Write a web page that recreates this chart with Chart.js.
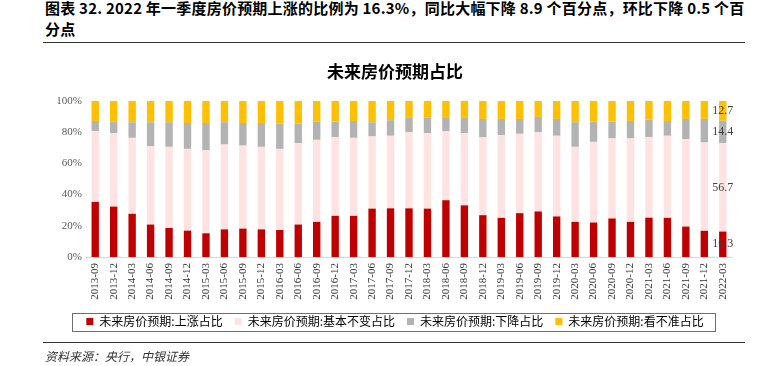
<!DOCTYPE html>
<html>
<head>
<meta charset="utf-8">
<script src="https://cdn.jsdelivr.net/npm/chart.js@4"></script>
<style>
  html, body { margin:0; padding:0; background:#fff; }
  body { width:774px; height:366px; position:relative; overflow:hidden; font-family:"Noto Sans CJK SC", sans-serif; }
  #head { position:absolute; left:45px; top:-3px; font-size:15px; font-weight:bold; line-height:21px; color:#000; white-space:nowrap; letter-spacing:0.22px; }
  .rule { position:absolute; left:43px; width:702px; height:0; border-top:1.5px solid #333; }
  #src { position:absolute; left:45px; top:347px; font-size:12px; font-style:italic; color:#333; white-space:nowrap; }
  #c { position:absolute; left:0; top:0; }
</style>
</head>
<body>
<div id="head">图表 32. 2022 年一季度房价预期上涨的比例为 16.3%，同比大幅下降 8.9 个百分点，环比下降 0.5 个百<br>分点</div>
<div class="rule" style="top:42px"></div>
<canvas id="c" width="774" height="366"></canvas>
<div class="rule" style="top:342px"></div>
<div id="src">资料来源：央行，中银证券</div>
<script>
const categories = ["2013-09","2013-12","2014-03","2014-06","2014-09","2014-12","2015-03","2015-06","2015-09","2015-12","2016-03","2016-06","2016-09","2016-12","2017-03","2017-06","2017-09","2017-12","2018-03","2018-06","2018-09","2018-12","2019-03","2019-06","2019-09","2019-12","2020-03","2020-06","2020-09","2020-12","2021-03","2021-06","2021-09","2021-12","2022-03"];
const seriesNames = ["未来房价预期:上涨占比","未来房价预期:基本不变占比","未来房价预期:下降占比","未来房价预期:看不准占比"];
const upShare      = [35.3,32.3,27.7,20.8,18.6,16.9,15.2,17.7,18.2,17.7,17.3,20.8,22.5,26.4,26.4,31.0,31.2,31.2,31.0,36.4,33.1,26.8,25.1,28.1,29.2,26.0,22.5,22.1,24.7,22.5,25.2,25.1,19.5,16.8,16.3];
const flatShare    = [45.4,47.1,48.7,50.2,52.0,52.4,53.2,54.4,53.2,52.9,52.0,52.1,52.6,50.4,50.0,46.3,46.5,48.7,48.4,44.3,46.3,50.0,53.0,50.9,50.7,51.7,48.1,51.7,51.3,53.5,51.6,52.6,56.0,56.6,56.7];
const downShare    = [6.5,7.4,10.0,15.4,15.8,16.6,17.5,14.3,14.5,15.3,16.2,12.6,11.7,10.0,10.8,9.1,10.0,9.3,9.8,8.9,9.8,11.7,10.4,9.5,9.9,10.8,15.8,13.0,10.8,11.2,11.3,9.5,13.0,15.1,14.4];
const unclearShare = [12.8,13.2,13.6,13.6,13.6,14.1,14.1,13.6,14.1,14.1,14.5,14.5,13.2,13.2,12.8,13.6,12.3,10.8,10.8,10.4,10.8,11.5,11.5,11.5,10.2,11.5,13.6,13.2,13.2,12.8,11.9,12.8,11.5,11.5,12.7];
const yTicks = [0,20,40,60,80,100];
const chartTitle = "未来房价预期占比";

const colors = ["#C00000","#FFE3E3","#B3B3B3","#FFC000"];
const seriesData = [upShare, flatShare, downShare, unclearShare];

const lastLabels = {
  id:'lastLabels',
  afterDatasetsDraw(chart){
    const ctx = chart.ctx;
    ctx.save();
    ctx.font = '12px "Liberation Serif", serif';
    ctx.fillStyle = '#404040';
    ctx.textAlign = 'center';
    ctx.textBaseline = 'middle';
    chart.data.datasets.forEach((ds, i) => {
      const meta = chart.getDatasetMeta(i);
      const idx = ds.data.length - 1;
      const el = meta.data[idx];
      const y = (el.y + el.base) / 2;
      ctx.fillText(ds.data[idx].toFixed(1), el.x, y);
    });
    ctx.restore();
  }
};
const legendBorder = {
  id:'legendBorder',
  afterDraw(chart){
    const lg = chart.legend;
    if (!lg || !lg.legendHitBoxes.length) return;
    const hb = lg.legendHitBoxes;
    let l = Infinity, r = -Infinity, t = Infinity, b = -Infinity;
    hb.forEach(h => { l = Math.min(l, h.left); r = Math.max(r, h.left + h.width); t = Math.min(t, h.top); b = Math.max(b, h.top + h.height); });
    const ctx = chart.ctx;
    ctx.save();
    ctx.strokeStyle = '#6f6f6f';
    ctx.lineWidth = 1;
    ctx.strokeRect(Math.round(l - 14) + 0.5, Math.round(t - 3) + 0.5, Math.round(r - l + 26), Math.round(b - t + 6));
    ctx.restore();
  }
};

new Chart(document.getElementById('c'), {
  type: 'bar',
  data: {
    labels: categories,
    datasets: seriesNames.map((n, i) => ({
      label: n,
      data: seriesData[i],
      backgroundColor: colors[i],
      borderWidth: 0,
      barPercentage: 0.8,
      categoryPercentage: 0.5
    }))
  },
  options: {
    responsive: false,
    animation: false,
    devicePixelRatio: 1,
    layout: { padding: { left: 58, right: 42, top: 0, bottom: 28.5 } },
    plugins: {
      title: {
        display: true, text: chartTitle, color: '#000',
        font: { family: '"Noto Sans CJK SC", sans-serif', size: 17, weight: 'bold', lineHeight: 1.2 },
        padding: { top: 61, bottom: 19.6 }
      },
      legend: {
        position: 'bottom',
        labels: {
          boxWidth: 7, boxHeight: 7, padding: 12, color: '#000',
          font: { family: '"Noto Sans CJK SC", sans-serif', size: 12, lineHeight: 1.3 }
        }
      },
      tooltip: { enabled: false }
    },
    scales: {
      x: {
        stacked: true,
        grid: { display: false, drawTicks: false },
        border: { display: true, color: '#D9D9D9' },
        ticks: {
          autoSkip: false, maxRotation: 90, minRotation: 90, padding: 6, color: '#333',
          font: { family: '"Liberation Serif", serif', size: 11 }
        },
        afterFit(s){ s.height = 46.5; }
      },
      y: {
        stacked: true, min: 0, max: 100,
        grid: { display: false, drawTicks: false },
        border: { display: false },
        ticks: {
          stepSize: 20, padding: 4, color: '#595959',
          font: { family: '"Liberation Serif", serif', size: 11 },
          callback: v => yTicks.includes(v) ? v + '%' : ''
        },
        afterFit(s){ s.width = 28; }
      }
    }
  },
  plugins: [lastLabels, legendBorder]
});
</script>
</body>
</html>
